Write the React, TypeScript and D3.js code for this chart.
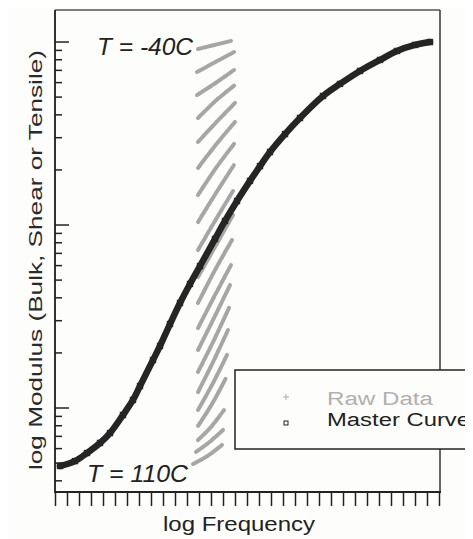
import React from "react";
import * as d3 from "d3";

// master curve: log frequency and log10 modulus
const masterLogF = [0.375, 1.625, 2.625, 3.708, 4.542, 5.625, 6.458, 7.042, 8.125, 8.708, 9.542, 10.375, 11.208, 12.042, 13.292, 14.125, 15.125, 16.208, 17.042, 17.875, 19.125, 20.375, 22.292, 23.708, 25.375, 27.042, 28.458, 29.958, 31.208];
const masterLogM = [5.683, 5.71, 5.754, 5.809, 5.863, 5.962, 6.044, 6.12, 6.262, 6.339, 6.459, 6.574, 6.678, 6.776, 6.924, 7.022, 7.131, 7.241, 7.322, 7.399, 7.497, 7.585, 7.705, 7.771, 7.842, 7.902, 7.951, 7.984, 8.0];

// raw data isotherms (top = -40C ... bottom = 110C): [logF, logM] points
const rawSegments: [number, number][][] = [
  [[11.875, 7.962], [13.25, 7.984], [14.625, 8.006]],
  [[11.792, 7.836], [13.333, 7.891], [14.875, 7.945]],
  [[11.792, 7.71], [13.333, 7.776], [14.875, 7.847]],
  [[11.875, 7.585], [13.417, 7.683], [14.958, 7.765]],
  [[11.875, 7.454], [13.417, 7.563], [14.958, 7.667]],
  [[11.875, 7.312], [13.417, 7.443], [14.958, 7.563]],
  [[11.875, 7.164], [13.375, 7.312], [14.875, 7.443]],
  [[11.875, 7.016], [13.375, 7.175], [14.875, 7.328]],
  [[11.875, 6.863], [13.333, 7.027], [14.792, 7.186]],
  [[11.875, 6.716], [13.333, 6.885], [14.792, 7.055]],
  [[11.875, 6.574], [13.292, 6.754], [14.708, 6.918]],
  [[11.875, 6.437], [13.25, 6.612], [14.625, 6.781]],
  [[11.875, 6.317], [13.208, 6.492], [14.542, 6.672]],
  [[11.875, 6.197], [13.167, 6.366], [14.458, 6.547]],
  [[11.875, 6.087], [13.125, 6.251], [14.375, 6.426]],
  [[11.875, 5.989], [13.083, 6.131], [14.292, 6.29]],
  [[11.875, 5.902], [13.042, 6.022], [14.208, 6.164]],
  [[11.875, 5.825], [12.958, 5.896], [14.042, 5.989]],
  [[11.708, 5.76], [12.833, 5.814], [13.958, 5.88]],
  [[11.458, 5.694], [12.667, 5.738], [13.875, 5.798]],
];

const xTickValues = d3.range(0, 33);
const yDecades = [5, 6, 7, 8];
const xDomain = [0, 32];
const yDomain = [5.541, 8.175];

export default function App() {
  const x = d3.scaleLinear().domain(xDomain).range([55.5, 439.5]);
  const y = d3.scaleLinear().domain(yDomain).range([492, 10]);
  const line = d3
    .line<[number, number]>()
    .x((d) => x(d[0]))
    .y((d) => y(d[1]))
    .curve(d3.curveCatmullRom.alpha(0.5));
  const master: [number, number][] = masterLogF.map((f, i) => [f, masterLogM[i]]);

  const yTicks: { v: number; major: boolean }[] = [];
  yDecades.forEach((n) => {
    for (let k = 1; k <= 9; k++) {
      const v = n + Math.log10(k);
      if (v >= yDomain[0] && v <= yDomain[1]) yTicks.push({ v, major: k === 1 });
    }
  });

  const font = "Arial, 'Liberation Sans', sans-serif";
  return (
    <svg width={465} height={531} style={{ display: "block", margin: 0 }} viewBox="8 8 465 531">
      <rect x={0} y={0} width={473} height={539} fill="#fdfdfb" />
      {/* raw data */}
      {rawSegments.map((seg, i) => (
        <path key={i} d={line(seg) || ""} fill="none" stroke="#a6a6a6" strokeWidth={4} strokeLinecap="round" strokeDasharray="5 1.2" />
      ))}
      {/* master curve */}
      <path d={line(master) || ""} fill="none" stroke="#252525" strokeWidth={6.5} strokeLinecap="round" />
      {master.map((d, i) => (
        <rect key={i} x={x(d[0]) - 3.2} y={y(d[1]) - 3.2} width={6.4} height={6.4} fill="#252525" />
      ))}
      {/* frame */}
      <line x1={55} x2={440} y1={10} y2={10} stroke="#555" strokeWidth={1.5} />
      <line x1={440} x2={440} y1={10} y2={492} stroke="#333" strokeWidth={1.5} />
      <line x1={55} x2={55} y1={10} y2={493} stroke="#333" strokeWidth={2} />
      <line x1={55} x2={441} y1={492} y2={492} stroke="#222" strokeWidth={2} />
      {xTickValues.map((t) => (
        <line key={t} x1={x(t)} x2={x(t)} y1={492} y2={506} stroke="#222" strokeWidth={1.5} />
      ))}
      {yTicks.map((t, i) => (
        <line key={i} x1={55} x2={t.major ? 69 : 62} y1={y(t.v)} y2={y(t.v)} stroke="#222" strokeWidth={1.5} />
      ))}
      {/* labels */}
      <text x={97} y={55} fontFamily={font} fontStyle="italic" fontSize={23} fill="#222" textLength={96} lengthAdjust="spacingAndGlyphs">T = -40C</text>
      <text x={87} y={482} fontFamily={font} fontStyle="italic" fontSize={23} fill="#222" textLength={101} lengthAdjust="spacingAndGlyphs">T = 110C</text>
      <text x={163} y={531} fontFamily={font} fontSize={20} fill="#222" textLength={152} lengthAdjust="spacingAndGlyphs">log Frequency</text>
      <text transform="translate(42,470) rotate(-90)" x={0} y={0} fontFamily={font} fontSize={18} fill="#2a2a2a" textLength={420} lengthAdjust="spacingAndGlyphs">log Modulus (Bulk, Shear or Tensile)</text>
      {/* legend */}
      <rect x={235} y={370} width={260} height={79} fill="#fdfdfb" stroke="#222" strokeWidth={1.5} />
      <line x1={283} x2={289} y1={397} y2={397} stroke="#aaa" strokeWidth={1} />
      <line x1={286} x2={286} y1={394} y2={400} stroke="#aaa" strokeWidth={1} />
      <rect x={284} y={421} width={4} height={4} fill="none" stroke="#222" strokeWidth={1} />
      <text x={327} y={405} fontFamily={font} fontSize={18} fill="#b0b0b0" textLength={106} lengthAdjust="spacingAndGlyphs">Raw Data</text>
      <text x={327} y={426} fontFamily={font} fontSize={18} fill="#222" textLength={143} lengthAdjust="spacingAndGlyphs">Master Curve</text>
    </svg>
  );
}
